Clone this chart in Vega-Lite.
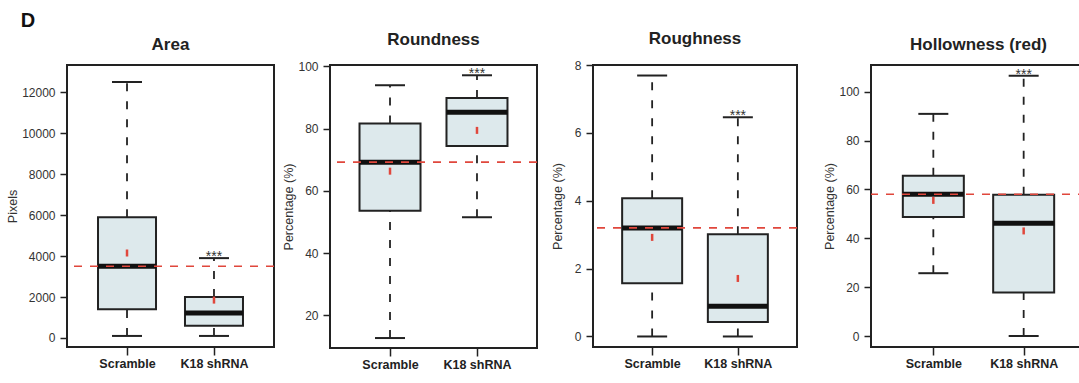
{
  "$schema": "https://vega.github.io/schema/vega-lite/v6.json",
  "background": "white",
  "padding": {"left": 5, "top": 11, "right": 0, "bottom": 0},
  "config": {
    "font": "Liberation Sans",
    "view": {"stroke": "#222", "strokeWidth": 2},
    "title": {"fontSize": 17, "fontWeight": "bold", "color": "#222", "offset": 11, "font": "Liberation Sans"},
    "axis": {"domain": false, "grid": false, "tickColor": "#222", "tickWidth": 1.5, "tickSize": 7, "labelFont": "Liberation Sans", "labelFontSize": 12, "labelColor": "#333", "labelPadding": 5, "titleFont": "Liberation Sans", "titleFontWeight": "normal", "titleFontSize": 12.5, "titleColor": "#333"},
    "axisY": {"format": "d"},
    "axisX": {"labelFontWeight": "bold", "labelColor": "#222", "labelFontSize": 12.5, "labelAngle": 0, "tickSize": 8, "labelPadding": 2, "title": null},
    "tick": {"opacity": 1}
  },
  "title": {"text": "D", "anchor": "start", "fontSize": 20, "fontWeight": "bold", "color": "#111", "dx": 15, "offset": -2, "frame": "bounds"},
  "spacing": 23,
  "hconcat": [
    {
      "bounds": "flush",
      "spacing": 56,
      "hconcat": [
        {
          "width": 207, "height": 282,
          "title": "Area",
          "data": {"values": [
            {"group": "Scramble", "low": 100, "q1": 1400, "median": 3500, "q3": 5900, "high": 12500, "mean": 4150, "sig": ""},
            {"group": "K18 shRNA", "low": 100, "q1": 600, "median": 1220, "q3": 2000, "high": 3900, "mean": 1850, "sig": "***"}
          ]},
          "layer": [
            {"mark": {"type": "rule", "strokeDash": [8, 10], "strokeWidth": 1.8, "color": "#222"},
             "encoding": {
               "x": {"field": "group", "type": "nominal", "sort": ["Scramble", "K18 shRNA"], "scale": {"type": "point", "padding": 0.69}},
               "y": {"field": "q3", "type": "quantitative", "scale": {"domain": [-440, 13330], "nice": false, "zero": false}, "axis": {"values": [0, 2000, 4000, 6000, 8000, 10000, 12000], "title": "Pixels", "titlePadding": 2}},
               "y2": {"field": "high"}}},
            {"mark": {"type": "rule", "strokeDash": [8, 10], "strokeWidth": 1.8, "color": "#222"},
             "encoding": {"x": {"field": "group", "type": "nominal", "sort": ["Scramble", "K18 shRNA"]}, "y": {"field": "low", "type": "quantitative"}, "y2": {"field": "q1"}}},
            {"mark": {"type": "tick", "size": 30, "thickness": 2, "color": "#222", "opacity": 1},
             "encoding": {"x": {"field": "group", "type": "nominal", "sort": ["Scramble", "K18 shRNA"]}, "y": {"field": "high", "type": "quantitative"}}},
            {"mark": {"type": "tick", "size": 30, "thickness": 2, "color": "#222", "opacity": 1},
             "encoding": {"x": {"field": "group", "type": "nominal", "sort": ["Scramble", "K18 shRNA"]}, "y": {"field": "low", "type": "quantitative"}}},
            {"mark": {"type": "bar", "size": 58, "fill": "#dde9ec", "stroke": "#222", "strokeWidth": 2, "opacity": 1},
             "encoding": {"x": {"field": "group", "type": "nominal", "sort": ["Scramble", "K18 shRNA"]}, "y": {"field": "q1", "type": "quantitative"}, "y2": {"field": "q3"}}},
            {"mark": {"type": "tick", "size": 58, "thickness": 5, "color": "#111", "opacity": 1},
             "encoding": {"x": {"field": "group", "type": "nominal", "sort": ["Scramble", "K18 shRNA"]}, "y": {"field": "median", "type": "quantitative"}}},
            {"mark": {"type": "point", "shape": "M0,-1L0,1", "size": 49, "strokeWidth": 2.5, "color": "#e0473c", "filled": false, "opacity": 1},
             "encoding": {"x": {"field": "group", "type": "nominal", "sort": ["Scramble", "K18 shRNA"]}, "y": {"field": "mean", "type": "quantitative"}}},
            {"transform": [{"filter": "datum.group == 'Scramble'"}],
             "mark": {"type": "rule", "strokeDash": [8, 8], "strokeWidth": 1.6, "color": "#e0473c"},
             "encoding": {"y": {"field": "median", "type": "quantitative"}}},
            {"mark": {"type": "text", "fontSize": 14, "baseline": "alphabetic", "dy": 3, "color": "#333"},
             "encoding": {"x": {"field": "group", "type": "nominal", "sort": ["Scramble", "K18 shRNA"]}, "y": {"field": "high", "type": "quantitative"}, "text": {"field": "sig"}}}
          ]
        },
        {
          "width": 207, "height": 283,
          "title": "Roundness",
          "data": {"values": [
            {"group": "Scramble", "low": 12.7, "q1": 53.6, "median": 69.2, "q3": 81.6, "high": 93.9, "mean": 66.3, "sig": ""},
            {"group": "K18 shRNA", "low": 51.5, "q1": 74.4, "median": 85.2, "q3": 89.8, "high": 97.1, "mean": 79.4, "sig": "***"}
          ]},
          "layer": [
            {"mark": {"type": "rule", "strokeDash": [8, 10], "strokeWidth": 1.8, "color": "#222"},
             "encoding": {
               "x": {"field": "group", "type": "nominal", "sort": ["Scramble", "K18 shRNA"], "scale": {"type": "point", "padding": 0.69}},
               "y": {"field": "q3", "type": "quantitative", "scale": {"domain": [9.5, 100.4], "nice": false, "zero": false}, "axis": {"values": [20, 40, 60, 80, 100], "title": "Percentage (%)", "titlePadding": 2}},
               "y2": {"field": "high"}}},
            {"mark": {"type": "rule", "strokeDash": [8, 10], "strokeWidth": 1.8, "color": "#222"},
             "encoding": {"x": {"field": "group", "type": "nominal", "sort": ["Scramble", "K18 shRNA"]}, "y": {"field": "low", "type": "quantitative"}, "y2": {"field": "q1"}}},
            {"mark": {"type": "tick", "size": 30, "thickness": 2, "color": "#222", "opacity": 1},
             "encoding": {"x": {"field": "group", "type": "nominal", "sort": ["Scramble", "K18 shRNA"]}, "y": {"field": "high", "type": "quantitative"}}},
            {"mark": {"type": "tick", "size": 30, "thickness": 2, "color": "#222", "opacity": 1},
             "encoding": {"x": {"field": "group", "type": "nominal", "sort": ["Scramble", "K18 shRNA"]}, "y": {"field": "low", "type": "quantitative"}}},
            {"mark": {"type": "bar", "size": 61, "fill": "#dde9ec", "stroke": "#222", "strokeWidth": 2, "opacity": 1},
             "encoding": {"x": {"field": "group", "type": "nominal", "sort": ["Scramble", "K18 shRNA"]}, "y": {"field": "q1", "type": "quantitative"}, "y2": {"field": "q3"}}},
            {"mark": {"type": "tick", "size": 61, "thickness": 5, "color": "#111", "opacity": 1},
             "encoding": {"x": {"field": "group", "type": "nominal", "sort": ["Scramble", "K18 shRNA"]}, "y": {"field": "median", "type": "quantitative"}}},
            {"mark": {"type": "point", "shape": "M0,-1L0,1", "size": 49, "strokeWidth": 2.5, "color": "#e0473c", "filled": false, "opacity": 1},
             "encoding": {"x": {"field": "group", "type": "nominal", "sort": ["Scramble", "K18 shRNA"]}, "y": {"field": "mean", "type": "quantitative"}}},
            {"transform": [{"filter": "datum.group == 'Scramble'"}],
             "mark": {"type": "rule", "strokeDash": [8, 8], "strokeWidth": 1.6, "color": "#e0473c"},
             "encoding": {"y": {"field": "median", "type": "quantitative"}}},
            {"mark": {"type": "text", "fontSize": 14, "baseline": "alphabetic", "dy": 3, "color": "#333"},
             "encoding": {"x": {"field": "group", "type": "nominal", "sort": ["Scramble", "K18 shRNA"]}, "y": {"field": "high", "type": "quantitative"}, "text": {"field": "sig"}}}
          ]
        },
        {
          "width": 204, "height": 282,
          "title": "Roughness",
          "data": {"values": [
            {"group": "Scramble", "low": 0, "q1": 1.57, "median": 3.2, "q3": 4.07, "high": 7.69, "mean": 2.92, "sig": ""},
            {"group": "K18 shRNA", "low": 0, "q1": 0.43, "median": 0.89, "q3": 3.01, "high": 6.46, "mean": 1.71, "sig": "***"}
          ]},
          "layer": [
            {"mark": {"type": "rule", "strokeDash": [8, 10], "strokeWidth": 1.8, "color": "#222"},
             "encoding": {
               "x": {"field": "group", "type": "nominal", "sort": ["Scramble", "K18 shRNA"], "scale": {"type": "point", "padding": 0.69}},
               "y": {"field": "q3", "type": "quantitative", "scale": {"domain": [-0.31, 8.0], "nice": false, "zero": false}, "axis": {"values": [0, 2, 4, 6, 8], "title": "Percentage (%)", "titlePadding": 10}},
               "y2": {"field": "high"}}},
            {"mark": {"type": "rule", "strokeDash": [8, 10], "strokeWidth": 1.8, "color": "#222"},
             "encoding": {"x": {"field": "group", "type": "nominal", "sort": ["Scramble", "K18 shRNA"]}, "y": {"field": "low", "type": "quantitative"}, "y2": {"field": "q1"}}},
            {"mark": {"type": "tick", "size": 30, "thickness": 2, "color": "#222", "opacity": 1},
             "encoding": {"x": {"field": "group", "type": "nominal", "sort": ["Scramble", "K18 shRNA"]}, "y": {"field": "high", "type": "quantitative"}}},
            {"mark": {"type": "tick", "size": 30, "thickness": 2, "color": "#222", "opacity": 1},
             "encoding": {"x": {"field": "group", "type": "nominal", "sort": ["Scramble", "K18 shRNA"]}, "y": {"field": "low", "type": "quantitative"}}},
            {"mark": {"type": "bar", "size": 60, "fill": "#dde9ec", "stroke": "#222", "strokeWidth": 2, "opacity": 1},
             "encoding": {"x": {"field": "group", "type": "nominal", "sort": ["Scramble", "K18 shRNA"]}, "y": {"field": "q1", "type": "quantitative"}, "y2": {"field": "q3"}}},
            {"mark": {"type": "tick", "size": 60, "thickness": 5, "color": "#111", "opacity": 1},
             "encoding": {"x": {"field": "group", "type": "nominal", "sort": ["Scramble", "K18 shRNA"]}, "y": {"field": "median", "type": "quantitative"}}},
            {"mark": {"type": "point", "shape": "M0,-1L0,1", "size": 49, "strokeWidth": 2.5, "color": "#e0473c", "filled": false, "opacity": 1},
             "encoding": {"x": {"field": "group", "type": "nominal", "sort": ["Scramble", "K18 shRNA"]}, "y": {"field": "mean", "type": "quantitative"}}},
            {"transform": [{"filter": "datum.group == 'Scramble'"}],
             "mark": {"type": "rule", "strokeDash": [8, 8], "strokeWidth": 1.6, "color": "#e0473c"},
             "encoding": {"y": {"field": "median", "type": "quantitative"}}},
            {"mark": {"type": "text", "fontSize": 14, "baseline": "alphabetic", "dy": 3, "color": "#333"},
             "encoding": {"x": {"field": "group", "type": "nominal", "sort": ["Scramble", "K18 shRNA"]}, "y": {"field": "high", "type": "quantitative"}, "text": {"field": "sig"}}}
          ]
        }
      ]
    },
    {
      "width": 215, "height": 282,
      "title": "Hollowness (red)",
      "data": {"values": [
        {"group": "Scramble", "low": 25.7, "q1": 48.7, "median": 58.0, "q3": 65.6, "high": 90.9, "mean": 55.5, "sig": ""},
        {"group": "K18 shRNA", "low": 0, "q1": 17.8, "median": 46.1, "q3": 57.8, "high": 106.5, "mean": 43.0, "sig": "***"}
      ]},
      "layer": [
        {"mark": {"type": "rule", "strokeDash": [8, 10], "strokeWidth": 1.8, "color": "#222"},
         "encoding": {
           "x": {"field": "group", "type": "nominal", "sort": ["Scramble", "K18 shRNA"], "scale": {"type": "point", "padding": 0.69}},
           "y": {"field": "q3", "type": "quantitative", "scale": {"domain": [-4.5, 110.9], "nice": false, "zero": false}, "axis": {"values": [0, 20, 40, 60, 80, 100], "title": "Percentage (%)", "titlePadding": 2}},
           "y2": {"field": "high"}}},
        {"mark": {"type": "rule", "strokeDash": [8, 10], "strokeWidth": 1.8, "color": "#222"},
         "encoding": {"x": {"field": "group", "type": "nominal", "sort": ["Scramble", "K18 shRNA"]}, "y": {"field": "low", "type": "quantitative"}, "y2": {"field": "q1"}}},
        {"mark": {"type": "tick", "size": 30, "thickness": 2, "color": "#222", "opacity": 1},
         "encoding": {"x": {"field": "group", "type": "nominal", "sort": ["Scramble", "K18 shRNA"]}, "y": {"field": "high", "type": "quantitative"}}},
        {"mark": {"type": "tick", "size": 30, "thickness": 2, "color": "#222", "opacity": 1},
         "encoding": {"x": {"field": "group", "type": "nominal", "sort": ["Scramble", "K18 shRNA"]}, "y": {"field": "low", "type": "quantitative"}}},
        {"mark": {"type": "bar", "size": 61, "fill": "#dde9ec", "stroke": "#222", "strokeWidth": 2, "opacity": 1},
         "encoding": {"x": {"field": "group", "type": "nominal", "sort": ["Scramble", "K18 shRNA"]}, "y": {"field": "q1", "type": "quantitative"}, "y2": {"field": "q3"}}},
        {"mark": {"type": "tick", "size": 61, "thickness": 5, "color": "#111", "opacity": 1},
         "encoding": {"x": {"field": "group", "type": "nominal", "sort": ["Scramble", "K18 shRNA"]}, "y": {"field": "median", "type": "quantitative"}}},
        {"mark": {"type": "point", "shape": "M0,-1L0,1", "size": 49, "strokeWidth": 2.5, "color": "#e0473c", "filled": false, "opacity": 1},
         "encoding": {"x": {"field": "group", "type": "nominal", "sort": ["Scramble", "K18 shRNA"]}, "y": {"field": "mean", "type": "quantitative"}}},
        {"transform": [{"filter": "datum.group == 'Scramble'"}],
         "mark": {"type": "rule", "strokeDash": [8, 8], "strokeWidth": 1.6, "color": "#e0473c"},
         "encoding": {"y": {"field": "median", "type": "quantitative"}}},
        {"mark": {"type": "text", "fontSize": 14, "baseline": "alphabetic", "dy": 3, "color": "#333"},
         "encoding": {"x": {"field": "group", "type": "nominal", "sort": ["Scramble", "K18 shRNA"]}, "y": {"field": "high", "type": "quantitative"}, "text": {"field": "sig"}}}
      ]
    }
  ]
}
